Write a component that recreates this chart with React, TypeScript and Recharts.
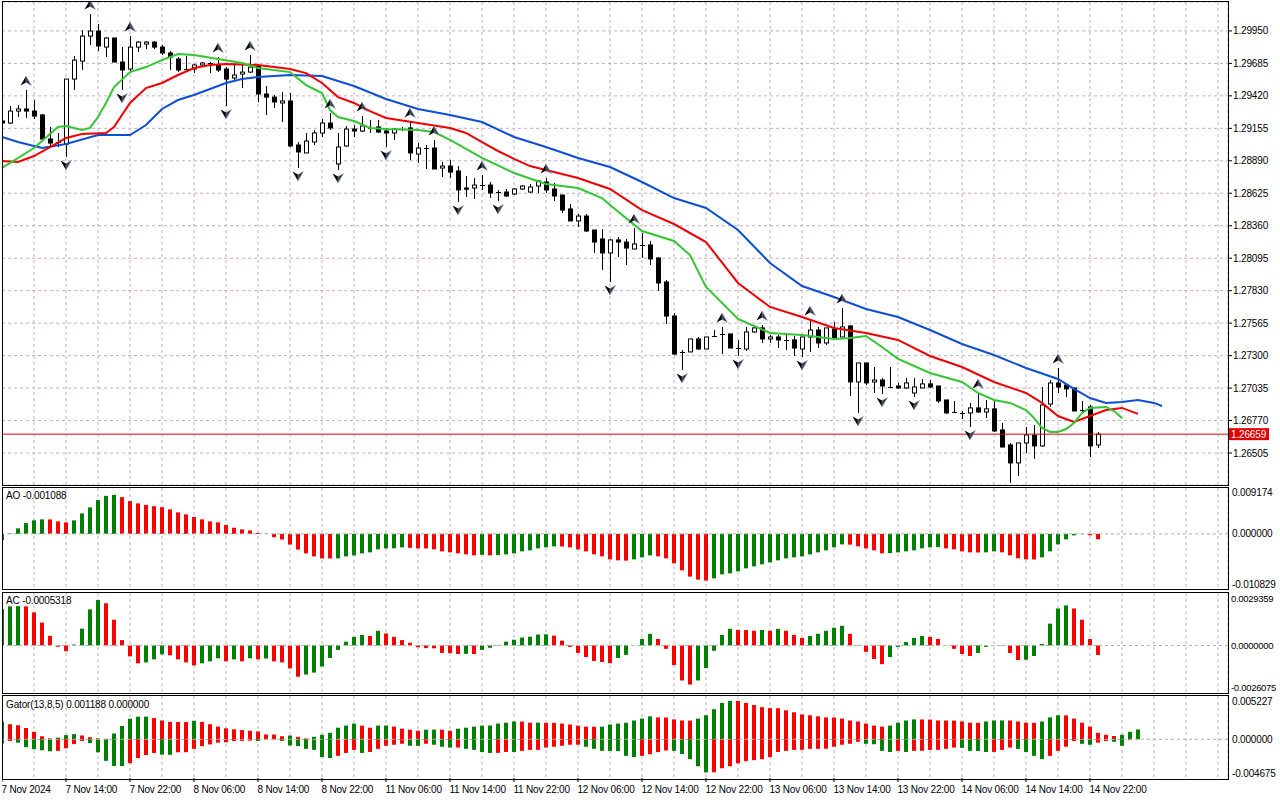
import React from 'react';
import { ComposedChart, Bar, Line, Scatter, XAxis, YAxis, ReferenceLine, Cell, CartesianGrid } from 'recharts';

const FONT = '"Liberation Sans", Arial, sans-serif';
const GREEN = '#008000';
const RED = '#ff0000';
const GRID = '#c4aec4';

// ---- time axis ----
const timeLabels = [
  '7 Nov 2024', '7 Nov 14:00', '7 Nov 22:00', '8 Nov 06:00', '8 Nov 14:00', '8 Nov 22:00',
  '11 Nov 06:00', '11 Nov 14:00', '11 Nov 22:00', '12 Nov 06:00', '12 Nov 14:00', '12 Nov 22:00',
  '13 Nov 06:00', '13 Nov 14:00', '13 Nov 22:00', '14 Nov 06:00', '14 Nov 14:00', '14 Nov 22:00',
];
const LABEL_EVERY = 8;
const GRID_EVERY = 4;

// ---- GBPUSD H1 candles ----
const open = [
  1.29215, 1.29198, 1.29296, 1.29313, 1.29296, 1.29264, 1.29068, 1.29043, 1.29027, 1.29557,
  1.29704, 1.29908, 1.29949, 1.29818, 1.29892, 1.29696, 1.29639, 1.29818, 1.29843, 1.29859,
  1.29818, 1.29770, 1.29721, 1.29639, 1.29639, 1.29672, 1.29688, 1.29672, 1.29639, 1.29566,
  1.29598, 1.29614, 1.29663, 1.29435, 1.29410, 1.29362, 1.29378, 1.29019, 1.28954, 1.29043,
  1.29117, 1.29198, 1.28864, 1.29011, 1.29149, 1.29133, 1.29158, 1.29166, 1.29133, 1.29117,
  1.29149, 1.29158, 1.28945, 1.28994, 1.28994, 1.28831, 1.28847, 1.28807, 1.28668, 1.28668,
  1.28692, 1.28692, 1.28635, 1.28635, 1.28619, 1.28660, 1.28635, 1.28684, 1.28717, 1.28660,
  1.28611, 1.28497, 1.28399, 1.28439, 1.28325, 1.28252, 1.28138, 1.28244, 1.28227, 1.28170,
  1.28203, 1.28203, 1.28097, 1.27901, 1.27623, 1.27330, 1.27330, 1.27436, 1.27354, 1.27460,
  1.27477, 1.27477, 1.27362, 1.27354, 1.27493, 1.27526, 1.27436, 1.27452, 1.27428, 1.27428,
  1.27354, 1.27452, 1.27509, 1.27403, 1.27517, 1.27452, 1.27542, 1.27085, 1.27240, 1.27085,
  1.27101, 1.27044, 1.27052, 1.27036, 1.26995, 1.27036, 1.27069, 1.27052, 1.26938, 1.26840,
  1.26832, 1.26832, 1.26873, 1.26840, 1.26865, 1.26693, 1.26571, 1.26424, 1.26587, 1.26652,
  1.26563, 1.26905, 1.27077, 1.27060, 1.27036, 1.26856, 1.26881, 1.26571,
];
const high = [
  1.29239, 1.29337, 1.29345, 1.29468, 1.29386, 1.29272, 1.29166, 1.29117, 1.29557, 1.29745,
  1.29957, 1.30088, 1.30006, 1.29900, 1.29892, 1.29818, 1.29908, 1.29867, 1.29867, 1.29867,
  1.29835, 1.29786, 1.29737, 1.29745, 1.29680, 1.29696, 1.29696, 1.29737, 1.29655, 1.29688,
  1.29688, 1.29753, 1.29672, 1.29500, 1.29427, 1.29451, 1.29443, 1.29043, 1.29117, 1.29141,
  1.29231, 1.29280, 1.29117, 1.29174, 1.29182, 1.29255, 1.29223, 1.29223, 1.29158, 1.29158,
  1.29166, 1.29206, 1.29035, 1.29019, 1.29060, 1.28880, 1.28896, 1.28847, 1.28766, 1.28750,
  1.28774, 1.28717, 1.28652, 1.28660, 1.28668, 1.28692, 1.28701, 1.28733, 1.28750, 1.28709,
  1.28611, 1.28537, 1.28456, 1.28456, 1.28325, 1.28333, 1.28252, 1.28268, 1.28252, 1.28342,
  1.28301, 1.28236, 1.28105, 1.27917, 1.27648, 1.27346, 1.27436, 1.27452, 1.27452, 1.27509,
  1.27534, 1.27477, 1.27428, 1.27534, 1.27550, 1.27550, 1.27468, 1.27468, 1.27468, 1.27460,
  1.27452, 1.27591, 1.27534, 1.27526, 1.27574, 1.27689, 1.27550, 1.27240, 1.27240, 1.27207,
  1.27118, 1.27207, 1.27077, 1.27118, 1.27118, 1.27109, 1.27101, 1.27052, 1.26938, 1.26930,
  1.26848, 1.26914, 1.26995, 1.26938, 1.26930, 1.26750, 1.26587, 1.26587, 1.26718, 1.26734,
  1.27044, 1.27101, 1.27199, 1.27060, 1.27036, 1.26930, 1.26897, 1.26677,
];
const low = [
  1.29182, 1.29190, 1.29247, 1.29239, 1.29231, 1.29060, 1.29002, 1.29002, 1.28921, 1.29468,
  1.29631, 1.29835, 1.29786, 1.29737, 1.29696, 1.29468, 1.29606, 1.29778, 1.29802, 1.29802,
  1.29753, 1.29631, 1.29614, 1.29614, 1.29606, 1.29655, 1.29606, 1.29614, 1.29337, 1.29549,
  1.29484, 1.29606, 1.29370, 1.29264, 1.29321, 1.29206, 1.29002, 1.28831, 1.28954, 1.29019,
  1.29084, 1.29141, 1.28815, 1.29002, 1.29084, 1.29125, 1.29117, 1.29117, 1.29002, 1.29060,
  1.29133, 1.28896, 1.28872, 1.28823, 1.28823, 1.28758, 1.28750, 1.28554, 1.28594, 1.28578,
  1.28652, 1.28586, 1.28562, 1.28594, 1.28611, 1.28652, 1.28627, 1.28627, 1.28627, 1.28562,
  1.28464, 1.28399, 1.28350, 1.28309, 1.28138, 1.27999, 1.27901, 1.28105, 1.28040, 1.28170,
  1.28097, 1.28040, 1.27827, 1.27558, 1.27305, 1.27183, 1.27330, 1.27346, 1.27354, 1.27452,
  1.27313, 1.27362, 1.27297, 1.27338, 1.27485, 1.27403, 1.27403, 1.27362, 1.27346, 1.27297,
  1.27289, 1.27330, 1.27362, 1.27387, 1.27444, 1.27452, 1.26971, 1.26832, 1.27060, 1.26995,
  1.26987, 1.27036, 1.27028, 1.27028, 1.26962, 1.27036, 1.27036, 1.26914, 1.26824, 1.26832,
  1.26783, 1.26718, 1.26832, 1.26791, 1.26677, 1.26554, 1.26261, 1.26318, 1.26506, 1.26457,
  1.26554, 1.26881, 1.26995, 1.26962, 1.26848, 1.26840, 1.26473, 1.26546,
];
const close = [
  1.29198, 1.29296, 1.29313, 1.29296, 1.29255, 1.29068, 1.29035, 1.29040, 1.29557, 1.29712,
  1.29908, 1.29949, 1.29827, 1.29892, 1.29696, 1.29631, 1.29818, 1.29859, 1.29859, 1.29818,
  1.29770, 1.29737, 1.29631, 1.29636, 1.29672, 1.29688, 1.29680, 1.29631, 1.29557, 1.29590,
  1.29614, 1.29655, 1.29435, 1.29410, 1.29370, 1.29378, 1.29011, 1.28962, 1.29051, 1.29117,
  1.29198, 1.29158, 1.29002, 1.29149, 1.29133, 1.29174, 1.29154, 1.29125, 1.29117, 1.29149,
  1.29145, 1.28954, 1.28994, 1.28990, 1.28823, 1.28847, 1.28798, 1.28652, 1.28658, 1.28692,
  1.28689, 1.28627, 1.28632, 1.28603, 1.28660, 1.28684, 1.28676, 1.28725, 1.28652, 1.28603,
  1.28488, 1.28399, 1.28439, 1.28317, 1.28227, 1.28138, 1.28244, 1.28227, 1.28178, 1.28211,
  1.28200, 1.28089, 1.27893, 1.27623, 1.27313, 1.27326, 1.27436, 1.27354, 1.27452, 1.27452,
  1.27474, 1.27362, 1.27354, 1.27493, 1.27526, 1.27436, 1.27452, 1.27428, 1.27425, 1.27362,
  1.27452, 1.27509, 1.27403, 1.27526, 1.27444, 1.27534, 1.27085, 1.27240, 1.27077, 1.27101,
  1.27052, 1.27041, 1.27036, 1.27077, 1.27044, 1.27069, 1.27044, 1.26930, 1.26832, 1.26837,
  1.26829, 1.26873, 1.26840, 1.26865, 1.26685, 1.26554, 1.26424, 1.26587, 1.26652, 1.26563,
  1.26897, 1.27077, 1.27044, 1.27028, 1.26848, 1.26853, 1.26563, 1.26659,
];
const lastPrice = 1.26659;

// ---- Alligator (already shifted), read at sampled bars: [bar, price] ----
const jawPts: [number, number][] = [
  [0, 1.29084], [2, 1.29043], [5, 1.28994], [8, 1.29027], [12, 1.29100], [16, 1.29100], [18, 1.29182],
  [20, 1.29313], [22, 1.29386], [24, 1.29427], [28, 1.29525], [30, 1.29557], [32, 1.29574], [36, 1.29590],
  [40, 1.29582], [44, 1.29500], [48, 1.29394], [52, 1.29313], [56, 1.29264], [60, 1.29206], [64, 1.29084],
  [68, 1.29002], [72, 1.28913], [76, 1.28839], [80, 1.28717], [84, 1.28586], [88, 1.28505], [92, 1.28325],
  [96, 1.28056], [100, 1.27868], [104, 1.27778], [108, 1.27681], [112, 1.27615], [116, 1.27509],
  [120, 1.27395], [124, 1.27305], [128, 1.27199], [132, 1.27109], [134, 1.27028], [136, 1.26954],
  [138, 1.26914], [140, 1.26922], [142, 1.26938], [144, 1.26914], [145, 1.26889],
];
const teethPts: [number, number][] = [
  [0, 1.28888], [2, 1.28880], [4, 1.28929], [6, 1.29002], [8, 1.29076], [10, 1.29109], [13, 1.29117],
  [14, 1.29166], [16, 1.29362], [18, 1.29484], [20, 1.29525], [22, 1.29590], [24, 1.29647], [26, 1.29672],
  [28, 1.29680], [32, 1.29672], [36, 1.29639], [38, 1.29606], [40, 1.29525], [42, 1.29410], [44, 1.29362],
  [46, 1.29296], [48, 1.29239], [52, 1.29198], [56, 1.29158], [58, 1.29117], [60, 1.29043], [62, 1.28970],
  [64, 1.28905], [66, 1.28847], [68, 1.28815], [72, 1.28750], [76, 1.28660], [80, 1.28488], [84, 1.28374],
  [88, 1.28227], [92, 1.27893], [96, 1.27697], [100, 1.27615], [104, 1.27526], [108, 1.27485],
  [112, 1.27428], [116, 1.27297], [120, 1.27207], [124, 1.27085], [128, 1.26995], [130, 1.26914],
  [132, 1.26807], [134, 1.26758], [136, 1.26807], [138, 1.26856], [140, 1.26873], [142, 1.26824],
];
const lipsPts: [number, number][] = [
  [0, 1.28831], [4, 1.28994], [7, 1.29166], [8, 1.29174], [10, 1.29141], [11, 1.29158], [12, 1.29247],
  [13, 1.29362], [14, 1.29492], [16, 1.29614], [18, 1.29655], [20, 1.29712], [22, 1.29761], [24, 1.29753],
  [27, 1.29721], [30, 1.29688], [32, 1.29647], [36, 1.29614], [38, 1.29508], [40, 1.29443], [41, 1.29304],
  [42, 1.29247], [44, 1.29215], [46, 1.29158], [48, 1.29149], [52, 1.29141], [54, 1.29125], [56, 1.29060],
  [60, 1.28913], [64, 1.28790], [68, 1.28701], [72, 1.28668], [75, 1.28586], [76, 1.28529], [80, 1.28317],
  [84, 1.28236], [86, 1.28121], [88, 1.27860], [92, 1.27599], [96, 1.27485], [100, 1.27468], [104, 1.27436],
  [106, 1.27444], [108, 1.27460], [110, 1.27370], [112, 1.27273], [116, 1.27158], [120, 1.27085],
  [122, 1.26995], [124, 1.26938], [126, 1.26914], [128, 1.26856], [129, 1.26791], [130, 1.26710],
  [131, 1.26677], [132, 1.26677], [133, 1.26701], [134, 1.26750], [135, 1.26832], [136, 1.26873],
  [138, 1.26881], [139, 1.26848], [140, 1.26791],
];

// ---- Fractals (bar indices) ----
const fractalUpBars = [3, 11, 16, 27, 31, 41, 45, 51, 54, 60, 68, 79, 90, 95, 101, 105, 122, 132];
const fractalDownBars = [8, 15, 28, 37, 42, 48, 57, 62, 76, 85, 92, 100, 107, 110, 114, 121, 126];

// ---- Awesome Oscillator ----
const ao = [
  -0.0013, 0.0001, 0.0011, 0.00216, 0.0027, 0.0029, 0.00288, 0.0025, 0.0023, 0.0027,
  0.0041, 0.0053, 0.00675, 0.0076, 0.0078, 0.00735, 0.00655, 0.0061, 0.0058, 0.00553,
  0.00533, 0.0049, 0.0043, 0.0039, 0.00337, 0.0029, 0.0025, 0.0023, 0.00176, 0.00123,
  0.0009, 0.00069, 0.0002, 0.00005, -0.00067, -0.00113, -0.00214, -0.00315, -0.0039, -0.00451,
  -0.00491, -0.00492, -0.0049, -0.00451, -0.0043, -0.0039, -0.0037, -0.0031, -0.0029, -0.00289,
  -0.0027, -0.0028, -0.0029, -0.00292, -0.0031, -0.0035, -0.0037, -0.0039, -0.0041, -0.0043,
  -0.0042, -0.0043, -0.00425, -0.0041, -0.0039, -0.0035, -0.0033, -0.0029, -0.0027, -0.0025,
  -0.00252, -0.0027, -0.0031, -0.0035, -0.0041, -0.0045, -0.0051, -0.0053, -0.00535, -0.0051,
  -0.0047, -0.0043, -0.0045, -0.0049, -0.0059, -0.0073, -0.00855, -0.00915, -0.00935, -0.0089,
  -0.0081, -0.0079, -0.0075, -0.0069, -0.0065, -0.0061, -0.0057, -0.0053, -0.0049, -0.0047,
  -0.0045, -0.0041, -0.0037, -0.0033, -0.0027, -0.0021, -0.00215, -0.0025, -0.0029, -0.0033,
  -0.0039, -0.00385, -0.0037, -0.0035, -0.0033, -0.0029, -0.0027, -0.00265, -0.0029, -0.0031,
  -0.0035, -0.0037, -0.00372, -0.0037, -0.0035, -0.0037, -0.0043, -0.0049, -0.0051, -0.00512,
  -0.0047, -0.0035, -0.0021, -0.0011, -0.0003, -0.00005, -0.0003, -0.001088,
];

// ---- Accelerator Oscillator ----
const ac = [
  0.00202, 0.00219, 0.0022, 0.00219, 0.00185, 0.00128, 0.00054, -0.00007, -0.00032, 0.00005,
  0.00094, 0.00202, 0.00254, 0.00236, 0.00144, 0.0003, -0.00061, -0.001, -0.00095, -0.00078,
  -0.0005, -0.00055, -0.00078, -0.00095, -0.00112, -0.001, -0.00089, -0.00072, -0.00089, -0.00078,
  -0.00089, -0.00072, -0.00078, -0.00073, -0.00089, -0.00095, -0.00129, -0.00175, -0.00163, -0.00152,
  -0.00118, -0.0007, -0.00025, 0.00021, 0.00048, 0.00059, 0.00053, 0.00082, 0.00067, 0.00048,
  0.0003, 0.00015, -0.0001, -0.00015, -0.00016, -0.00042, -0.00043, -0.00048, -0.00047, -0.00048,
  -0.00025, -0.00013, 0.00002, 0.00021, 0.00032, 0.00044, 0.00049, 0.00061, 0.00062, 0.00055,
  0.00027, -0.00008, -0.00042, -0.00065, -0.00087, -0.00093, -0.00099, -0.0007, -0.00053, 0.00001,
  0.00036, 0.00065, 0.00036, -0.00019, -0.0011, -0.00196, -0.00219, -0.00196, -0.00127, -0.0003,
  0.00059, 0.00093, 0.00087, 0.00086, 0.00082, 0.00087, 0.00082, 0.00093, 0.00082, 0.00059,
  0.00042, 0.00053, 0.00065, 0.00082, 0.00099, 0.0011, 0.00065, -0.00002, -0.00036, -0.00076,
  -0.00105, -0.00065, -0.00008, 0.00019, 0.00042, 0.00053, 0.00048, 0.00036, -0.00001, -0.00019,
  -0.00048, -0.00059, -0.00042, -0.00008, 0.00001, -0.00002, -0.00042, -0.00082, -0.0008, -0.00059,
  0.00008, 0.00122, 0.00207, 0.00224, 0.00207, 0.00144, 0.00036, -0.0005318,
];

// ---- Gator Oscillator ----
const gatorUp = [
  0.00215, 0.00182, 0.0017, 0.00136, 0.0009, 0.00037, 0.0001, 0.0002, 0.0005, 0.00062,
  0.00046, 0.00025, 0.0001, 0.00005, 0.0007, 0.00161, 0.00248, 0.00273, 0.00274, 0.00256,
  0.00227, 0.0021, 0.00209, 0.00208, 0.00223, 0.0021, 0.00182, 0.00153, 0.00132, 0.0012,
  0.00111, 0.00103, 0.00095, 0.00058, 0.00057, 0.00037, 0.00045, 0.00029, 0.0001, 0.0003,
  0.00054, 0.00078, 0.0014, 0.00165, 0.0019, 0.00165, 0.0014, 0.00165, 0.00166, 0.00153,
  0.00128, 0.00116, 0.00103, 0.00116, 0.00117, 0.00116, 0.00103, 0.00128, 0.0014, 0.00153,
  0.00165, 0.00166, 0.0019, 0.002, 0.00215, 0.00214, 0.002, 0.00201, 0.00199, 0.00198,
  0.0019, 0.00178, 0.00165, 0.00153, 0.00152, 0.00153, 0.00178, 0.0019, 0.002, 0.00227,
  0.0025, 0.00277, 0.00264, 0.00263, 0.0024, 0.00227, 0.00226, 0.0025, 0.0029, 0.00363,
  0.00438, 0.00463, 0.00462, 0.00438, 0.00413, 0.00388, 0.00376, 0.00375, 0.0035, 0.00326,
  0.003, 0.0029, 0.00277, 0.00264, 0.00263, 0.0025, 0.00227, 0.00215, 0.0019, 0.00165,
  0.00153, 0.00165, 0.002, 0.00227, 0.0024, 0.00239, 0.00238, 0.00227, 0.00226, 0.00225,
  0.00215, 0.002, 0.00199, 0.00215, 0.00227, 0.00228, 0.00227, 0.00215, 0.002, 0.00199,
  0.00215, 0.00264, 0.0029, 0.00289, 0.0025, 0.002, 0.00153, 0.00078, 0.00054, 0.0004,
  0.00054, 0.0009, 0.001188,
];
const gatorDown = [
  -0.0005, -0.0002, -0.0004, -0.00095, -0.0012, -0.00133, -0.00145, -0.0014, -0.00108, -0.00058,
  -0.0002, -0.00045, -0.00157, -0.0026, -0.00322, -0.00324, -0.00289, -0.00227, -0.0019, -0.00165,
  -0.00186, -0.00187, -0.00157, -0.00156, -0.00116, -0.00083, -0.00062, -0.00041, -0.00037, -0.0002,
  -0.00019, -0.00017, -0.0002, -0.00004, -0.00002, -0.0002, -0.00074, -0.00083, -0.00116, -0.00128,
  -0.00215, -0.00227, -0.002, -0.00165, -0.00128, -0.00165, -0.00153, -0.00116, -0.00078, -0.00066,
  -0.00054, -0.00078, -0.00079, -0.00054, -0.00066, -0.0009, -0.001, -0.00099, -0.00116, -0.00128,
  -0.00153, -0.00165, -0.00164, -0.00153, -0.00154, -0.0014, -0.00128, -0.00127, -0.001, -0.0009,
  -0.00078, -0.00066, -0.00065, -0.0009, -0.00116, -0.0014, -0.00141, -0.00142, -0.002, -0.00215,
  -0.002, -0.0018, -0.00155, -0.00135, -0.0014, -0.00178, -0.0024, -0.00326, -0.004, -0.00399,
  -0.0035, -0.00326, -0.0029, -0.00264, -0.00252, -0.0024, -0.00215, -0.00153, -0.0014, -0.00128,
  -0.00127, -0.00116, -0.00115, -0.00114, -0.0009, -0.00066, -0.00054, -0.0003, -0.00054, -0.0006,
  -0.0014, -0.00153, -0.0014, -0.00153, -0.0014, -0.00139, -0.00128, -0.00127, -0.00116, -0.001,
  -0.00104, -0.0014, -0.00141, -0.00153, -0.00152, -0.00128, -0.001, -0.00116, -0.00153, -0.002,
  -0.0024, -0.002, -0.0014, -0.0009, -0.0002, -0.00054, -0.00066, -0.0004, -0.0002, -0.0003,
  -0.00078, -0.0001, 0,
];

// ---- axis scales ----
const priceTicks = [1.2995, 1.29685, 1.2942, 1.29155, 1.2889, 1.28625, 1.2836, 1.28095, 1.2783, 1.27565, 1.273, 1.27035, 1.2677, 1.26505];
const priceDomain: [number, number] = [1.26244, 1.30186];
const aoDomain: [number, number] = [-0.010829, 0.009174];
const acDomain: [number, number] = [-0.0026075, 0.0029359];
const gatorDomain: [number, number] = [-0.004675, 0.005227];
const BAR_SLOTS = 153.25;
const xDomain: [number, number] = [0, BAR_SLOTS];

// ---- derived tables ----
const mainRows: any[] = Array.from({ length: 146 }, (_, i) => {
  const r: any = { i };
  if (i < open.length) {
    r.o = open[i]; r.h = high[i]; r.l = low[i]; r.c = close[i];
    r.range = [low[i], high[i]];
  }
  return r;
});
jawPts.forEach(([b, v]) => { mainRows[b].jaw = v; });
teethPts.forEach(([b, v]) => { mainRows[b].teeth = v; });
lipsPts.forEach(([b, v]) => { mainRows[b].lips = v; });
const fracUpRows = fractalUpBars.map((b) => ({ i: b, v: high[b] }));
const fracDownRows = fractalDownBars.map((b) => ({ i: b, v: low[b] }));

const aoRows = ao.map((v, i) => ({ i, v }));
const acRows = ac.map((v, i) => ({ i, v }));
const gatorRows = gatorUp.map((u, i) => ({ i, up: u, dn: gatorDown[i] }));

function trendColors(vals: number[], useAbs = false): string[] {
  let up = true;
  return vals.map((v, i) => {
    if (i > 0) {
      const a = useAbs ? Math.abs(v) : v;
      const b = useAbs ? Math.abs(vals[i - 1]) : vals[i - 1];
      if (a > b) up = true;
      else if (a < b) up = false;
    }
    return up ? GREEN : RED;
  });
}
const aoColors = trendColors(ao);
const acColors = trendColors(ac);
const gUpColors = trendColors(gatorUp, true);
const gDnColors = trendColors(gatorDown, true);

const gridBars = Array.from({ length: Math.floor(BAR_SLOTS / GRID_EVERY) }, (_, k) => (k + 1) * GRID_EVERY).filter((b) => b < BAR_SLOTS);
const labelBars = timeLabels.map((_, k) => k * LABEL_EVERY);

// ---- shapes ----
const Candle = (props: any) => {
  const { x, y, width, height, payload } = props;
  if (!payload || payload.o == null || !Number.isFinite(y)) return null;
  const { o, h, l, c } = payload;
  const top = Math.min(y, y + height);
  const bot = Math.max(y, y + height);
  const span = h - l;
  const yOf = (v: number) => (span === 0 ? top : top + ((h - v) / span) * (bot - top));
  const cx = Math.round(x + width / 2) + 0.5;
  const yo = yOf(o);
  const yc = yOf(c);
  const bTop = Math.min(yo, yc);
  const bBot = Math.max(yo, yc);
  const bull = c >= o;
  return (
    <g>
      <line x1={cx} x2={cx} y1={top} y2={bot} stroke="#000" strokeWidth={1} />
      {bBot - bTop < 1.2 ? (
        <line x1={cx - 2.5} x2={cx + 2.5} y1={Math.round(bTop) + 0.5} y2={Math.round(bTop) + 0.5} stroke="#000" strokeWidth={1} />
      ) : (
        <rect x={cx - 2} y={bTop} width={4} height={bBot - bTop} fill={bull ? '#fff' : '#000'} stroke="#000" strokeWidth={1} />
      )}
    </g>
  );
};

const FractalUp = (p: any) => {
  const { cx, cy } = p;
  if (!Number.isFinite(cx) || !Number.isFinite(cy)) return null;
  return (
    <g transform={`translate(${cx},${cy - 9})`}>
      <path d="M0,-5 L-5.5,4.5 L0,1.5 Z" fill="#000" />
      <path d="M0,-5 L5.5,4.5 L0,1.5 Z" fill="#3c3c44" stroke="#8aa0c8" strokeWidth={0.5} />
    </g>
  );
};
const FractalDown = (p: any) => {
  const { cx, cy } = p;
  if (!Number.isFinite(cx) || !Number.isFinite(cy)) return null;
  return (
    <g transform={`translate(${cx},${cy + 8})`}>
      <path d="M0,5 L-5.5,-4.5 L0,-1.5 Z" fill="#000" />
      <path d="M0,5 L5.5,-4.5 L0,-1.5 Z" fill="#3c3c44" stroke="#8aa0c8" strokeWidth={0.5} />
    </g>
  );
};

const AXIS_FONT = 10;
const AXIS_LS = -0.15;

const PriceTag = (props: any) => {
  const vb = props.viewBox || {};
  if (!Number.isFinite(vb.x)) return null;
  const x = vb.x + vb.width + 1;
  const y = vb.y;
  return (
    <g>
      <rect x={x} y={y - 6} width={40} height={12} fill="#e00000" />
      <text x={x + 2} y={y + 0.5} fill="#fff" fontSize={AXIS_FONT} letterSpacing={AXIS_LS} fontFamily={FONT} dominantBaseline="central">
        {lastPrice.toFixed(5)}
      </text>
    </g>
  );
};

const makeYTick = (digits: number, domain: [number, number], inset: number, fs = AXIS_FONT, ls = AXIS_LS) => (props: any) => {
  const { x, y, payload } = props;
  const v = payload.value as number;
  const dy = v === domain[1] ? inset : v === domain[0] ? -inset : 0;
  return (
    <text x={x} y={y + dy} fontSize={fs} letterSpacing={ls} fontFamily={FONT} fill="#000" textAnchor="start" dominantBaseline="central">
      {v.toFixed(digits)}
    </text>
  );
};

const TimeTick = (props: any) => {
  const { x, y, payload } = props;
  const k = Math.round(payload.value / LABEL_EVERY);
  return (
    <text x={x - 0.5} y={y + 7} fontSize={AXIS_FONT} letterSpacing={-0.2} fontFamily={FONT} fill="#000" textAnchor="start" dominantBaseline="central">
      {timeLabels[k]}
    </text>
  );
};

const CHART_W = 1276;
const Y_W = 50;
const M = { top: 0, right: 0, bottom: 0, left: 0 };

const frame = (top: number, height: number) => ({
  position: 'absolute' as const,
  left: 2,
  top,
  width: 1227,
  height,
  border: '1px solid #000',
  boxSizing: 'border-box' as const,
  pointerEvents: 'none' as const,
});

const labelStyle = (top: number) => ({
  position: 'absolute' as const,
  left: 6,
  top,
  fontSize: AXIS_FONT,
  letterSpacing: AXIS_LS,
  lineHeight: '12px',
  fontFamily: FONT,
  color: '#000',
  whiteSpace: 'nowrap' as const,
});

const gridXAxis = (
  <XAxis xAxisId="grid" dataKey="i" type="number" domain={xDomain} allowDataOverflow ticks={gridBars} interval={0} hide />
);

export default function App() {
  return (
    <div style={{ position: 'absolute', left: 0, top: 0, width: 1280, height: 800, background: '#fff', overflow: 'hidden' }}>
      {/* main price panel */}
      <div style={{ position: 'absolute', left: 2, top: 2 }}>
        <ComposedChart width={CHART_W} height={483} data={mainRows} margin={M}>
          <XAxis dataKey="i" type="number" domain={xDomain} allowDataOverflow hide />
          {gridXAxis}
          <YAxis
            orientation="right"
            type="number"
            domain={priceDomain}
            allowDataOverflow
            ticks={priceTicks}
            interval={0}
            width={Y_W}
            tickSize={4}
            tickMargin={1}
            axisLine={false}
            tickLine={{ stroke: '#000' }}
            tick={makeYTick(5, priceDomain, 0)}
          />
          <CartesianGrid xAxisId="grid" stroke={GRID} strokeDasharray="3 3" fill="none" />
          <ReferenceLine y={lastPrice} stroke="#e00000" strokeWidth={1} label={PriceTag} />
          <Bar dataKey="range" barSize={5} shape={Candle} isAnimationActive={false} />
          <Line dataKey="jaw" stroke="#0c4fd6" strokeWidth={2} dot={false} connectNulls isAnimationActive={false} />
          <Line dataKey="teeth" stroke="#f00000" strokeWidth={2} dot={false} connectNulls isAnimationActive={false} />
          <Line dataKey="lips" stroke="#33c633" strokeWidth={2} dot={false} connectNulls isAnimationActive={false} />
          <Scatter data={fracUpRows} dataKey="v" shape={FractalUp} isAnimationActive={false} />
          <Scatter data={fracDownRows} dataKey="v" shape={FractalDown} isAnimationActive={false} />
        </ComposedChart>
      </div>

      {/* AO panel */}
      <div style={{ position: 'absolute', left: 2, top: 488 }}>
        <ComposedChart width={CHART_W} height={100} data={aoRows} margin={M}>
          <XAxis dataKey="i" type="number" domain={xDomain} allowDataOverflow hide />
          {gridXAxis}
          <YAxis
            orientation="right"
            type="number"
            domain={aoDomain}
            allowDataOverflow
            ticks={[aoDomain[1], 0, aoDomain[0]]}
            interval={0}
            width={Y_W}
            tickSize={0}
            tickMargin={4}
            axisLine={false}
            tickLine={false}
            tick={makeYTick(6, aoDomain, 4)}
          />
          <CartesianGrid xAxisId="grid" horizontal={false} stroke={GRID} strokeDasharray="3 3" fill="none" />
          <ReferenceLine y={0} stroke="#a8b4a8" strokeDasharray="3 3" />
          <Bar dataKey="v" barSize={4} isAnimationActive={false}>
            {aoColors.map((c, i) => (
              <Cell key={i} fill={c} />
            ))}
          </Bar>
        </ComposedChart>
      </div>

      {/* AC panel */}
      <div style={{ position: 'absolute', left: 2, top: 593 }}>
        <ComposedChart width={CHART_W} height={99} data={acRows} margin={M}>
          <XAxis dataKey="i" type="number" domain={xDomain} allowDataOverflow hide />
          {gridXAxis}
          <YAxis
            orientation="right"
            type="number"
            domain={acDomain}
            allowDataOverflow
            ticks={[acDomain[1], 0, acDomain[0]]}
            interval={0}
            width={Y_W}
            tickSize={0}
            tickMargin={3}
            axisLine={false}
            tickLine={false}
            tick={makeYTick(7, acDomain, 5, 9.5, -0.3)}
          />
          <CartesianGrid xAxisId="grid" horizontal={false} stroke={GRID} strokeDasharray="3 3" fill="none" />
          <ReferenceLine y={0} stroke="#a8b4a8" strokeDasharray="3 3" />
          <Bar dataKey="v" barSize={4} isAnimationActive={false}>
            {acColors.map((c, i) => (
              <Cell key={i} fill={c} />
            ))}
          </Bar>
        </ComposedChart>
      </div>

      {/* Gator panel */}
      <div style={{ position: 'absolute', left: 2, top: 696 }}>
        <ComposedChart width={CHART_W} height={104} data={gatorRows} margin={M} stackOffset="sign">
          <XAxis
            dataKey="i"
            type="number"
            domain={xDomain}
            allowDataOverflow
            ticks={labelBars}
            interval={0}
            height={22}
            axisLine={false}
            tickLine={{ stroke: '#000' }}
            tickSize={4}
            tickMargin={0}
            tick={TimeTick}
          />
          {gridXAxis}
          <YAxis
            orientation="right"
            type="number"
            domain={gatorDomain}
            allowDataOverflow
            ticks={[gatorDomain[1], 0, gatorDomain[0]]}
            interval={0}
            width={Y_W}
            tickSize={0}
            tickMargin={4}
            axisLine={false}
            tickLine={false}
            tick={makeYTick(6, gatorDomain, 5)}
          />
          <CartesianGrid xAxisId="grid" horizontal={false} stroke={GRID} strokeDasharray="3 3" fill="none" />
          <ReferenceLine y={0} stroke="#a8b4a8" strokeDasharray="3 3" />
          <Bar dataKey="up" stackId="g" barSize={4} isAnimationActive={false}>
            {gUpColors.map((c, i) => (
              <Cell key={i} fill={c} />
            ))}
          </Bar>
          <Bar dataKey="dn" stackId="g" barSize={4} isAnimationActive={false}>
            {gDnColors.map((c, i) => (
              <Cell key={i} fill={c} />
            ))}
          </Bar>
        </ComposedChart>
      </div>

      {/* panel frames */}
      <div style={frame(1, 485)} />
      <div style={frame(487, 103)} />
      <div style={frame(592, 102)} />
      <div style={frame(695, 85)} />

      {/* indicator captions */}
      <div style={labelStyle(490)}>AO -0.001088</div>
      <div style={labelStyle(595)}>AC -0.0005318</div>
      <div style={labelStyle(699)}>Gator(13,8,5) 0.001188 0.000000</div>
    </div>
  );
}
